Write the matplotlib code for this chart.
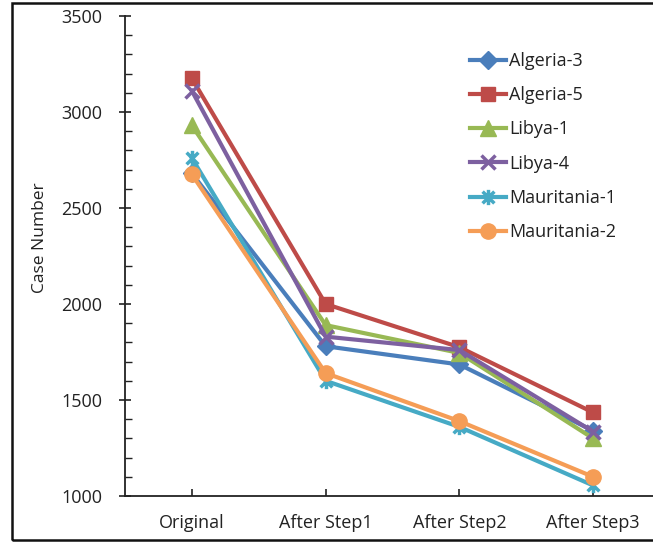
import matplotlib
matplotlib.use("Agg")
import matplotlib.pyplot as plt
from matplotlib.path import Path
from matplotlib.patches import Rectangle
from matplotlib.ticker import MultipleLocator, FixedLocator

# Case counts per dataset across the filtering steps
categories = ["Original", "After Step1", "After Step2", "After Step3"]
algeria_3 = [2680, 1780, 1685, 1340]
algeria_5 = [3175, 2000, 1775, 1435]
libya_1 = [2930, 1890, 1745, 1300]
libya_4 = [3110, 1830, 1760, 1335]
mauritania_1 = [2760, 1600, 1360, 1055]
mauritania_2 = [2675, 1640, 1390, 1100]

series_names = ["Algeria-3", "Algeria-5", "Libya-1", "Libya-4",
                "Mauritania-1", "Mauritania-2"]
series_values = [algeria_3, algeria_5, libya_1, libya_4,
                 mauritania_1, mauritania_2]

plt.rcParams["font.family"] = ["Open Sans", "DejaVu Sans"]

# Office-style asterisk marker: an x crossed by a vertical bar
star = Path([(-1, -1), (1, 1), (-1, 1), (1, -1), (0, -1.3), (0, 1.3)],
            [Path.MOVETO, Path.LINETO] * 3)

styles = [
    dict(color="#4A7EBB", marker="D", ms=9),
    dict(color="#BE4B48", marker="s", ms=10),
    dict(color="#98B954", marker="^", ms=11),
    dict(color="#7D60A0", marker="x", ms=10, mew=2.5),
    dict(color="#46AAC5", marker=star, ms=11, mew=2.5),
    dict(color="#F59D56", marker="o", ms=11),
]

fig = plt.figure(figsize=(6.53, 5.45), dpi=100)
ax = fig.add_axes([125 / 653, 49 / 545, 535 / 653, 480 / 545])

x = range(len(categories))
for name, vals, st in zip(series_names, series_values, styles):
    ax.plot(x, vals, label=name, lw=3.0, color=st["color"],
            marker=st["marker"], ms=st["ms"], mew=st.get("mew", 1.0),
            mec=st["color"], mfc=st["color"])

ax.set_xlim(-0.5, 3.5)
ax.set_ylim(1000, 3500)
ax.xaxis.set_major_locator(FixedLocator(list(x)))
ax.set_xticklabels(categories)
ax.yaxis.set_major_locator(MultipleLocator(500))
ax.yaxis.set_minor_locator(MultipleLocator(100))

for side in ("top", "right"):
    ax.spines[side].set_visible(False)
for side in ("left", "bottom"):
    ax.spines[side].set_linewidth(1.3)
    ax.spines[side].set_color("#222222")

ax.tick_params(axis="y", which="major", direction="inout", length=9,
               width=1.2, labelsize=13, pad=12, colors="#222222")
ax.tick_params(axis="y", which="minor", direction="in", length=5,
               width=1.0, colors="#222222")
ax.tick_params(axis="x", which="major", direction="in", length=5,
               width=1.2, labelsize=13, pad=13, colors="#222222")

fig.text(40 / 653, 1 - 238 / 545, "Case Number", rotation=90,
         ha="center", va="center", fontsize=12.5, color="#222222")

leg = ax.legend(loc="upper left", bbox_to_anchor=(470 / 653, 1 - 52 / 545),
                bbox_transform=fig.transFigure, frameon=False, fontsize=13,
                handlelength=2.0, handletextpad=0.15, labelspacing=0.9,
                borderaxespad=0, borderpad=0)
for t in leg.get_texts():
    t.set_color("#222222")

fig.patches.append(Rectangle((12 / 653, 5 / 545), 1.0, 537 / 545,
                             transform=fig.transFigure, fill=False,
                             lw=1.8, edgecolor="#111111"))

fig.savefig("out.png", dpi=100)
